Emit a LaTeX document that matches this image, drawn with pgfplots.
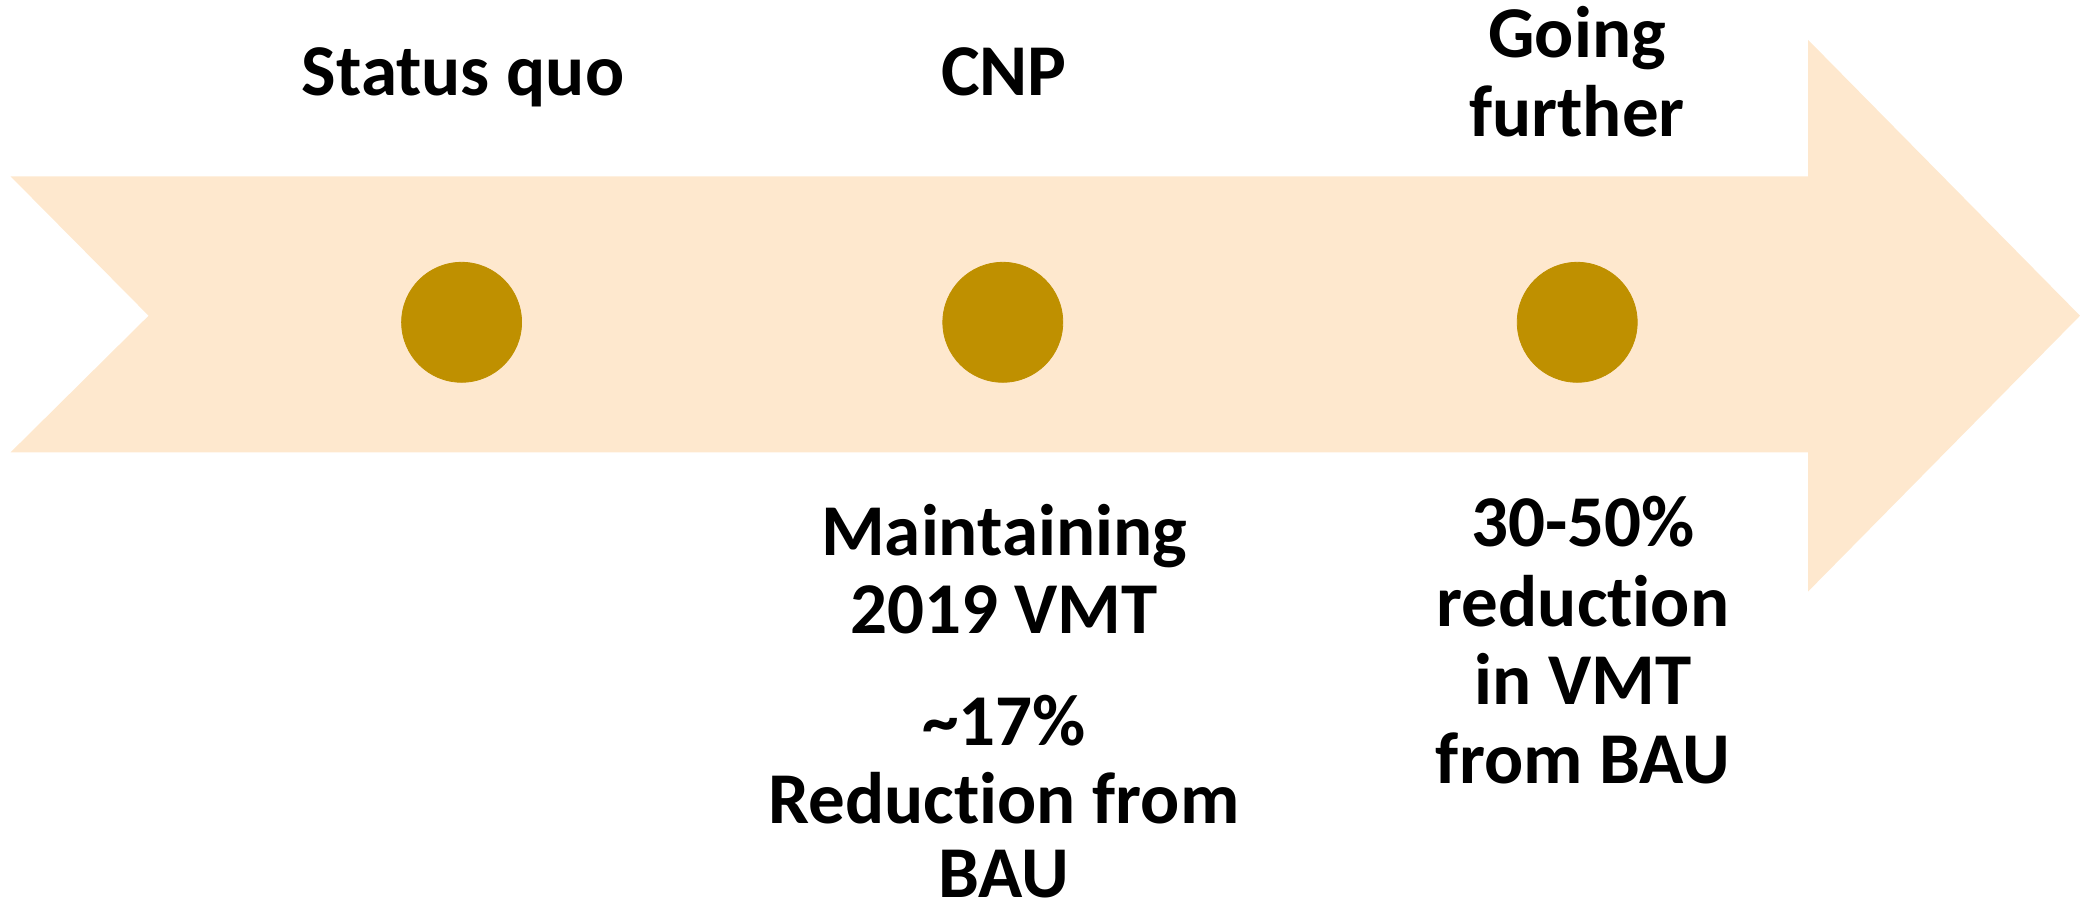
\documentclass[border=0pt]{standalone}
\usepackage{fontspec}
\setmainfont[Ligatures={NoCommon,NoRare,NoContextual}]{Carlito}
\usepackage{pgfplots}
\pgfplotsset{compat=1.18}
\definecolor{arrowc}{RGB}{254,232,206}
\definecolor{dotc}{RGB}{191,144,0}
\tikzset{lab/.style={anchor=base, inner sep=0pt, font=\fontsize{36.5bp}{39bp}\selectfont\bfseries}}
\begin{document}
\begin{tikzpicture}
\begin{axis}[
  width=1040bp, height=456.5bp, scale only axis,
  xmin=0, xmax=2080, ymin=0, ymax=913, y dir=reverse,
  hide axis, clip=false,
]
\path[draw=none] (rel axis cs:0,0) rectangle (rel axis cs:1,1);
% arrow shape
\addplot[draw=none, fill=arrowc] coordinates {
 (10.6,176.4) (1808,176.4) (1808,39.8) (2080,315.7) (1808,591.6)
 (1808,452.3) (10.6,452.3) (148.6,315.7) (10.6,176.4)};
% dots
\addplot[only marks, mark=*, mark size=30.1pt, color=dotc, mark options={draw=dotc, fill=dotc}] coordinates {
 (461.6,322.3) (1002.8,322.3) (1577.2,322.3)};
\node[lab] at (463,96) {Status quo};
\node[lab] at (1004,96) {CNP};
\node[lab] at (1577,58) {Going};
\node[lab] at (1577,137) {further};
\node[lab] at (1004,555) {Maintaining};
\node[lab] at (1004,633) {2019 VMT};
\node[lab] at (1004,745) {\textasciitilde17\%};
\node[lab] at (1004,823) {Reduction from};
\node[lab] at (1004,897) {BAU};
\node[lab] at (1583,546) {30-50\%};
\node[lab] at (1583,626) {reduction};
\node[lab] at (1583,704) {in VMT};
\node[lab] at (1583,783) {from BAU};
\end{axis}
\end{tikzpicture}
\end{document}
